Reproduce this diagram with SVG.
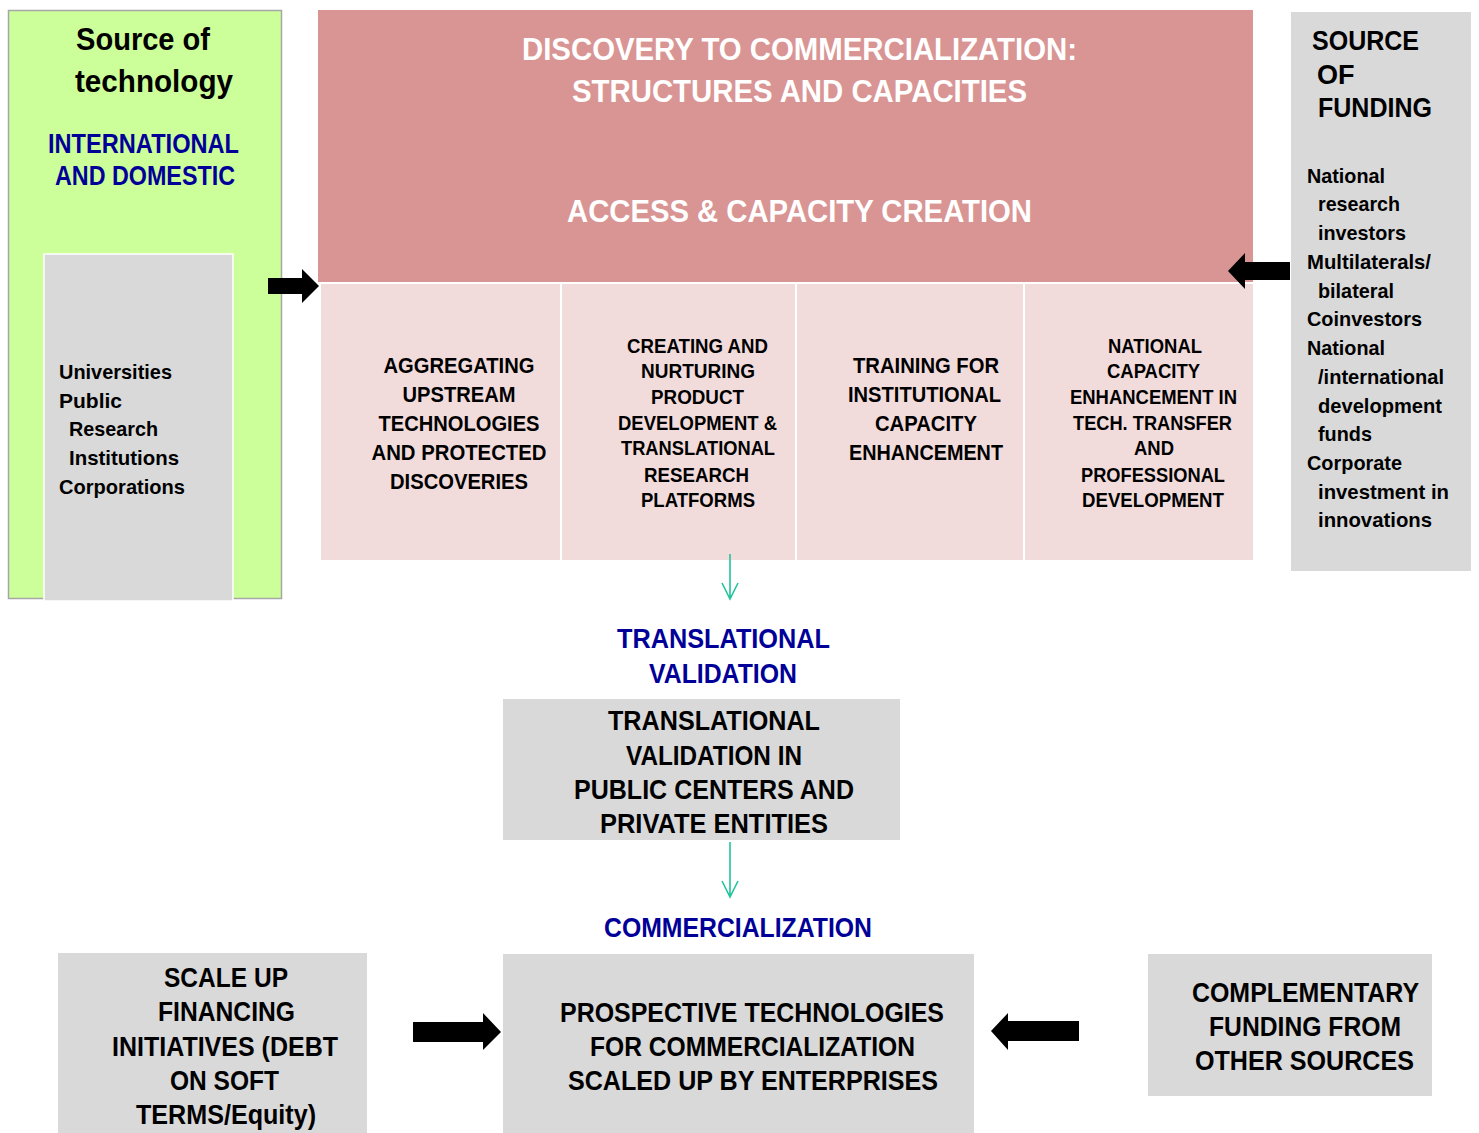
<svg xmlns="http://www.w3.org/2000/svg" width="1479" height="1133" viewBox="0 0 1479 1133">
<style>
text{font-family:"Liberation Sans",Arial,sans-serif;font-weight:bold}
.t{fill:#fff;font-size:31px;text-anchor:middle}
.c{fill:#000;font-size:22px;text-anchor:middle}
.cs{fill:#000;font-size:20px;text-anchor:middle}
.b{fill:#000099;font-size:27px;text-anchor:middle}
.g{fill:#000;font-size:27px;text-anchor:middle}
.l{fill:#000;font-size:21px}
.gray{fill:#D9D9D9}
.cell{fill:#F2DCDB;stroke:#fff;stroke-width:2}
.blk{fill:#000}
.ln{stroke:#22C39B;stroke-width:1.6;fill:none}
</style>
<g id="source-tech">
<rect x="8.5" y="10.5" width="273" height="588" fill="#CCFF99" stroke="#A6A6A6" stroke-width="1.5"/>
<text x="143" y="50" style="font-size:32px;text-anchor:middle" textLength="134" lengthAdjust="spacingAndGlyphs">Source of</text>
<text x="154" y="92" style="font-size:32px;text-anchor:middle" textLength="158" lengthAdjust="spacingAndGlyphs">technology</text>
<text class="b" x="143.5" y="153" textLength="191" lengthAdjust="spacingAndGlyphs">INTERNATIONAL</text>
<text class="b" x="145" y="185" textLength="180" lengthAdjust="spacingAndGlyphs">AND DOMESTIC</text>
</g>
<g id="institutions">
<rect x="44" y="254" width="189" height="347" class="gray" stroke="#fff" stroke-width="1.5"/>
<text class="l" x="59" y="379" textLength="113" lengthAdjust="spacingAndGlyphs">Universities</text>
<text class="l" x="59" y="408">Public</text>
<text class="l" x="69" y="436" textLength="89" lengthAdjust="spacingAndGlyphs">Research</text>
<text class="l" x="69" y="465" textLength="110" lengthAdjust="spacingAndGlyphs">Institutions</text>
<text class="l" x="59" y="494" textLength="126" lengthAdjust="spacingAndGlyphs">Corporations</text>
</g>
<g id="discovery">
<rect x="318" y="10" width="935" height="272" fill="#D99594"/>
<text class="t" x="799.5" y="60" textLength="555" lengthAdjust="spacingAndGlyphs">DISCOVERY TO COMMERCIALIZATION:</text>
<text class="t" x="799.5" y="102" textLength="455" lengthAdjust="spacingAndGlyphs">STRUCTURES AND CAPACITIES</text>
<text class="t" x="799.5" y="222" textLength="465" lengthAdjust="spacingAndGlyphs">ACCESS &amp; CAPACITY CREATION</text>
</g>
<g id="cell-aggregating">
<rect class="cell" x="320" y="283" width="241" height="278"/>
<text class="c" x="459" y="373" textLength="151" lengthAdjust="spacingAndGlyphs">AGGREGATING</text>
<text class="c" x="459" y="402" textLength="113" lengthAdjust="spacingAndGlyphs">UPSTREAM</text>
<text class="c" x="459" y="431" textLength="161" lengthAdjust="spacingAndGlyphs">TECHNOLOGIES</text>
<text class="c" x="459" y="460" textLength="175" lengthAdjust="spacingAndGlyphs">AND PROTECTED</text>
<text class="c" x="459" y="489" textLength="138" lengthAdjust="spacingAndGlyphs">DISCOVERIES</text>
</g>
<g id="cell-creating">
<rect class="cell" x="561" y="283" width="235" height="278"/>
<text class="cs" x="697.5" y="353" textLength="141" lengthAdjust="spacingAndGlyphs">CREATING AND</text>
<text class="cs" x="698" y="378" textLength="114" lengthAdjust="spacingAndGlyphs">NURTURING</text>
<text class="cs" x="697.5" y="404" textLength="93" lengthAdjust="spacingAndGlyphs">PRODUCT</text>
<text class="cs" x="697.5" y="430" textLength="159" lengthAdjust="spacingAndGlyphs">DEVELOPMENT &amp;</text>
<text class="cs" x="698" y="455" textLength="154" lengthAdjust="spacingAndGlyphs">TRANSLATIONAL</text>
<text class="cs" x="696.5" y="482" textLength="105" lengthAdjust="spacingAndGlyphs">RESEARCH</text>
<text class="cs" x="698" y="507" textLength="114" lengthAdjust="spacingAndGlyphs">PLATFORMS</text>
</g>
<g id="cell-training">
<rect class="cell" x="796" y="283" width="228" height="278"/>
<text class="c" x="926" y="373" textLength="146" lengthAdjust="spacingAndGlyphs">TRAINING FOR</text>
<text class="c" x="924.5" y="402" textLength="153" lengthAdjust="spacingAndGlyphs">INSTITUTIONAL</text>
<text class="c" x="926" y="431" textLength="102" lengthAdjust="spacingAndGlyphs">CAPACITY</text>
<text class="c" x="926" y="460" textLength="154" lengthAdjust="spacingAndGlyphs">ENHANCEMENT</text>
</g>
<g id="cell-national">
<rect class="cell" x="1024" y="283" width="230" height="278"/>
<text class="cs" x="1155" y="353" textLength="94" lengthAdjust="spacingAndGlyphs">NATIONAL</text>
<text class="cs" x="1153.5" y="378" textLength="93" lengthAdjust="spacingAndGlyphs">CAPACITY</text>
<text class="cs" x="1153.5" y="404" textLength="167" lengthAdjust="spacingAndGlyphs">ENHANCEMENT IN</text>
<text class="cs" x="1152.5" y="430" textLength="159" lengthAdjust="spacingAndGlyphs">TECH. TRANSFER</text>
<text class="cs" x="1154" y="455" textLength="40" lengthAdjust="spacingAndGlyphs">AND</text>
<text class="cs" x="1153" y="482" textLength="144" lengthAdjust="spacingAndGlyphs">PROFESSIONAL</text>
<text class="cs" x="1153" y="507" textLength="142" lengthAdjust="spacingAndGlyphs">DEVELOPMENT</text>
</g>
<g id="source-funding">
<rect x="1291" y="12" width="180" height="559" class="gray"/>
<text x="1312" y="50" style="font-size:27px" textLength="107" lengthAdjust="spacingAndGlyphs">SOURCE</text>
<text x="1317" y="84" style="font-size:27px">OF</text>
<text x="1318" y="117" style="font-size:27px" textLength="114" lengthAdjust="spacingAndGlyphs">FUNDING</text>
<text class="l" x="1307" y="183" textLength="78" lengthAdjust="spacingAndGlyphs">National</text>
<text class="l" x="1318" y="211" textLength="82" lengthAdjust="spacingAndGlyphs">research</text>
<text class="l" x="1318" y="240" textLength="88" lengthAdjust="spacingAndGlyphs">investors</text>
<text class="l" x="1307" y="269" textLength="124" lengthAdjust="spacingAndGlyphs">Multilaterals/</text>
<text class="l" x="1318" y="298" textLength="76" lengthAdjust="spacingAndGlyphs">bilateral</text>
<text class="l" x="1307" y="326" textLength="115" lengthAdjust="spacingAndGlyphs">Coinvestors</text>
<text class="l" x="1307" y="355" textLength="78" lengthAdjust="spacingAndGlyphs">National</text>
<text class="l" x="1318" y="384" textLength="126" lengthAdjust="spacingAndGlyphs">/international</text>
<text class="l" x="1318" y="413" textLength="124" lengthAdjust="spacingAndGlyphs">development</text>
<text class="l" x="1318" y="441" textLength="54" lengthAdjust="spacingAndGlyphs">funds</text>
<text class="l" x="1307" y="470" textLength="95" lengthAdjust="spacingAndGlyphs">Corporate</text>
<text class="l" x="1318" y="499" textLength="131" lengthAdjust="spacingAndGlyphs">investment in</text>
<text class="l" x="1318" y="527" textLength="114" lengthAdjust="spacingAndGlyphs">innovations</text>
</g>
<g id="translational-label">
<text class="b" x="723.5" y="648" textLength="213" lengthAdjust="spacingAndGlyphs">TRANSLATIONAL</text>
<text class="b" x="723" y="683" textLength="148" lengthAdjust="spacingAndGlyphs">VALIDATION</text>
</g>
<g id="translational-validation">
<rect x="503" y="699" width="397" height="141" class="gray"/>
<text class="g" x="714" y="730" textLength="212" lengthAdjust="spacingAndGlyphs">TRANSLATIONAL</text>
<text class="g" x="714" y="765" textLength="176" lengthAdjust="spacingAndGlyphs">VALIDATION IN</text>
<text class="g" x="714" y="799" textLength="280" lengthAdjust="spacingAndGlyphs">PUBLIC CENTERS AND</text>
<text class="g" x="714" y="833" textLength="228" lengthAdjust="spacingAndGlyphs">PRIVATE ENTITIES</text>
</g>
<g id="commercialization-label">
<text class="b" x="738" y="937" textLength="268" lengthAdjust="spacingAndGlyphs">COMMERCIALIZATION</text>
</g>
<g id="scale-up">
<rect x="58" y="953" width="309" height="180" class="gray"/>
<text class="g" x="226" y="987" textLength="124" lengthAdjust="spacingAndGlyphs">SCALE UP</text>
<text class="g" x="226.5" y="1021" textLength="137" lengthAdjust="spacingAndGlyphs">FINANCING</text>
<text class="g" x="225" y="1056" textLength="226" lengthAdjust="spacingAndGlyphs">INITIATIVES (DEBT</text>
<text class="g" x="224.5" y="1090" textLength="109" lengthAdjust="spacingAndGlyphs">ON SOFT</text>
<text class="g" x="226" y="1124" textLength="180" lengthAdjust="spacingAndGlyphs">TERMS/Equity)</text>
</g>
<g id="prospective">
<rect x="503" y="954" width="471" height="179" class="gray"/>
<text class="g" x="752" y="1022" textLength="384" lengthAdjust="spacingAndGlyphs">PROSPECTIVE TECHNOLOGIES</text>
<text class="g" x="752.5" y="1056" textLength="325" lengthAdjust="spacingAndGlyphs">FOR COMMERCIALIZATION</text>
<text class="g" x="753" y="1090" textLength="370" lengthAdjust="spacingAndGlyphs">SCALED UP BY ENTERPRISES</text>
</g>
<g id="complementary">
<rect x="1148" y="954" width="284" height="142" class="gray"/>
<text class="g" x="1305.5" y="1002" textLength="227" lengthAdjust="spacingAndGlyphs">COMPLEMENTARY</text>
<text class="g" x="1305" y="1036" textLength="192" lengthAdjust="spacingAndGlyphs">FUNDING FROM</text>
<text class="g" x="1304.5" y="1070" textLength="219" lengthAdjust="spacingAndGlyphs">OTHER SOURCES</text>
</g>
<g id="connectors">
<polygon class="blk" points="268,278 302,278 302,269 319,286 302,303 302,294 268,294"/>
<polygon class="blk" points="1290,262 1245,262 1245,253 1228,271 1245,289 1245,280 1290,280"/>
<polygon class="blk" points="413,1022 483,1022 483,1013 501,1032 483,1050 483,1042 413,1042"/>
<polygon class="blk" points="1079,1021 1008,1021 1008,1013 991,1031 1008,1050 1008,1041 1079,1041"/>
<path class="ln" d="M730,554 V599 M722,583 L730,599 L738,583"/>
<path class="ln" d="M730,842 V897 M722,881 L730,897 L738,881"/>
</g>
</svg>
